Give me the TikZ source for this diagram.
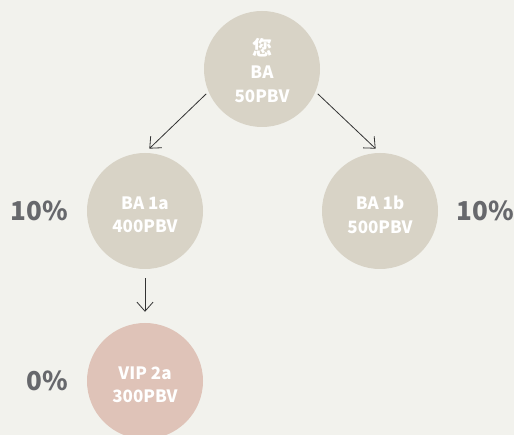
\documentclass[tikz,border=0pt]{standalone}
\usepackage{fontspec}
\setmainfont{Noto Sans CJK SC}
\usepackage{xcolor}
\usepackage{tikz}
\usetikzlibrary{positioning,arrows.meta}

\definecolor{bgpaper}{HTML}{F2F2ED}
\definecolor{beige}{HTML}{D8D3C6}
\definecolor{rose}{HTML}{DFC3B8}
\definecolor{pctgrey}{HTML}{67686C}
\definecolor{linegrey}{HTML}{333333}

\begin{document}
\begin{tikzpicture}[x=1pt,y=-1pt,
  member/.style={circle, fill=beige, minimum size=116pt, inner sep=0pt},
  vip/.style={member, fill=rose},
  inside/.style={text=white, font=\fontsize{17}{23.5}\selectfont\bfseries, align=center, yshift=-4pt},
  pct/.style={text=pctgrey, font=\fontsize{26}{30}\selectfont\bfseries},
  conn/.style={linegrey, line width=0.8pt, -{Straight Barb[length=9pt,width=16pt]}}]
\fill[bgpaper] (0,0) rectangle (514,435);
\useasboundingbox (0,0) rectangle (514,435);
\clip (0,0) rectangle (514,435);
% circles
\node[member, label={[inside, yshift=2.5pt]center:{\fontsize{20}{23.5}\selectfont 您}\\BA\\50PBV}] (you) at (262,69) {};
\node[member, label={[inside]center:BA 1a\\400PBV}] (ba1a) at (145,211) {};
\node[member, label={[inside]center:BA 1b\\500PBV}] (ba1b) at (380,211) {};
\node[vip, label={[inside]center:VIP 2a\\300PBV}] (vip2a) at (145,381) {};
% rates
\node[pct] (rate1a) at (39,211) {10\%};
\node[pct] (rate1b) at (485,211) {10\%};
\node[pct] (rate2a) at (47,381) {0\%};
% arrows
\draw[conn, shorten <=3pt, shorten >=6pt] (you.203) -- (ba1a.north);
\draw[conn, shorten <=3pt, shorten >=6pt] (you.337) -- (ba1b.north);
\draw[conn, shorten <=9pt, shorten >=11pt] (ba1a.south) -- (vip2a.north);
\end{tikzpicture}
\end{document}
